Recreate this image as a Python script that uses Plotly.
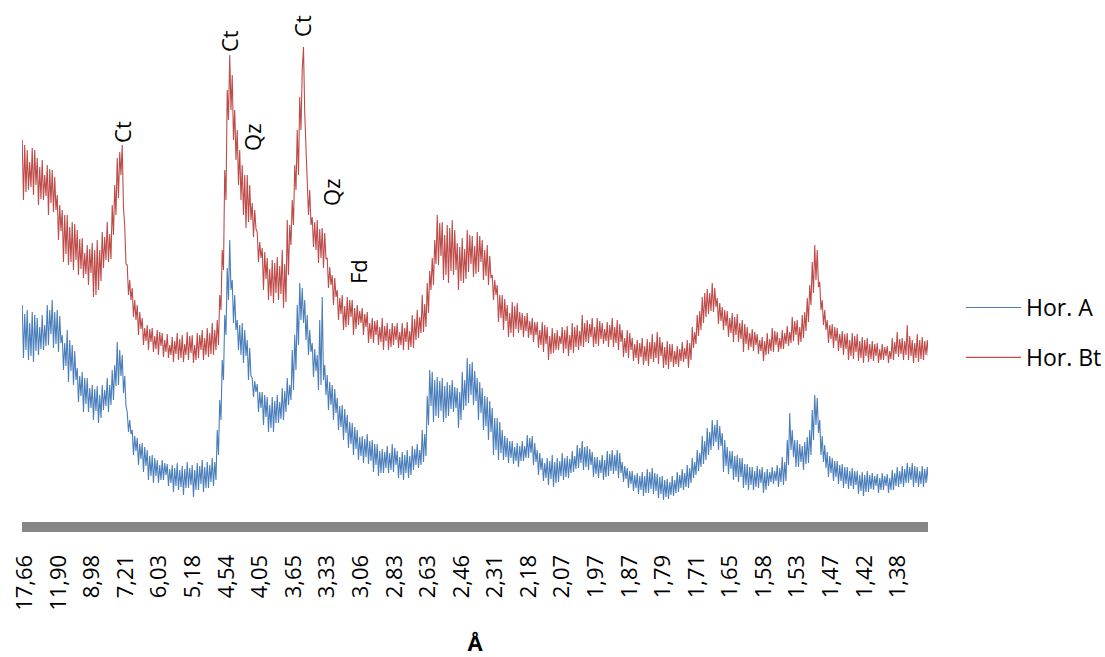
import plotly.graph_objects as go

# ---- data ----
tick_labels = ["17,66", "11,90", "8,98", "7,21", "6,03", "5,18", "4,54", "4,05",
               "3,65", "3,33", "3,06", "2,83", "2,63", "2,46", "2,31", "2,18",
               "2,07", "1,97", "1,87", "1,79", "1,71", "1,65", "1,58", "1,53",
               "1,47", "1,42", "1,38"]
first_label_2theta = 5.0      # 2θ of "17,66"
last_label_2theta = 67.86     # 2θ of "1,38"
two_theta_start = 4.8
two_theta_step = 0.09

# intensity (arbitrary units), one value per 2θ step
hor_a = [
    221, 168, 212, 176, 216, 166, 203, 170, 214, 164, 211, 175, 208, 171, 199, 177,
    211, 176, 201, 180, 221, 181, 216, 192, 226, 178, 214, 182, 216, 174, 210, 183,
    191, 156, 183, 160, 196, 144, 186, 155, 181, 141, 175, 146, 158, 124, 150, 130,
    154, 114, 148, 122, 148, 114, 138, 118, 141, 106, 137, 115, 140, 103, 131, 108,
    141, 116, 136, 120, 148, 114, 141, 121, 156, 126, 161, 140, 184, 141, 176, 150,
    171, 133, 150, 120, 114, 94, 106, 92, 96, 71, 90, 75, 88, 61, 82, 67,
    83, 54, 79, 60, 76, 46, 70, 50, 71, 43, 68, 50, 66, 43, 61, 46,
    66, 46, 63, 51, 62, 40, 57, 43, 61, 34, 58, 40, 63, 36, 56, 39,
    60, 31, 57, 38, 64, 38, 58, 41, 61, 29, 56, 36, 63, 36, 60, 42,
    66, 34, 59, 38, 64, 38, 61, 44, 68, 40, 64, 46, 96, 71, 126, 106,
    166, 146, 211, 191, 258, 226, 286, 236, 246, 203, 231, 196, 206, 176, 201, 171,
    203, 163, 196, 170, 186, 146, 178, 150, 148, 129, 145, 134, 142, 114, 134, 118,
    134, 101, 131, 109, 129, 94, 121, 98, 129, 94, 125, 103, 131, 103, 124, 107,
    138, 106, 135, 114, 148, 121, 141, 126, 176, 136, 191, 156, 221, 181, 243, 206,
    238, 203, 226, 186, 211, 171, 196, 174, 183, 149, 177, 155, 171, 136, 206, 141,
    229, 146, 161, 131, 151, 116, 144, 121, 141, 106, 137, 113, 128, 96, 120, 99,
    121, 86, 117, 93, 111, 78, 104, 82, 103, 71, 99, 77, 96, 66, 89, 70,
    90, 63, 87, 69, 92, 62, 85, 65, 86, 54, 82, 61, 82, 50, 75, 53,
    77, 53, 74, 58, 80, 53, 73, 56, 82, 54, 78, 61, 75, 48, 69, 51,
    74, 46, 71, 53, 76, 48, 70, 51, 80, 56, 77, 61, 82, 58, 76, 61,
    96, 64, 92, 70, 130, 101, 156, 120, 154, 104, 146, 110, 149, 108, 145, 115,
    148, 104, 140, 108, 144, 110, 141, 117, 146, 114, 139, 118, 138, 98, 134, 106,
    154, 116, 146, 120, 168, 123, 162, 131, 164, 121, 155, 125, 148, 106, 144, 113,
    138, 96, 130, 100, 129, 86, 125, 94, 118, 71, 108, 76, 108, 66, 104, 73,
    96, 66, 90, 69, 88, 63, 85, 68, 85, 62, 79, 65, 83, 59, 80, 65,
    85, 65, 80, 68, 91, 68, 88, 73, 90, 61, 83, 64, 76, 51, 73, 56,
    68, 45, 63, 48, 68, 41, 65, 47, 71, 39, 64, 43, 68, 44, 65, 50,
    73, 46, 68, 49, 70, 48, 67, 53, 75, 54, 70, 57, 81, 58, 78, 63,
    85, 56, 79, 59, 80, 56, 77, 61, 74, 49, 69, 52, 69, 48, 66, 53,
    71, 46, 66, 49, 75, 50, 72, 55, 76, 52, 71, 55, 76, 48, 73, 53,
    64, 44, 60, 47, 58, 38, 55, 42, 55, 35, 51, 38, 53, 32, 50, 36,
    54, 30, 50, 33, 57, 33, 54, 37, 58, 32, 53, 35, 52, 28, 49, 32,
    50, 26, 46, 29, 47, 27, 44, 31, 50, 30, 46, 33, 54, 34, 51, 38,
    57, 36, 53, 39, 61, 38, 58, 43, 68, 48, 64, 51, 76, 55, 73, 59,
    90, 62, 85, 66, 98, 71, 94, 76, 106, 80, 101, 84, 106, 76, 100, 80,
    93, 54, 86, 60, 79, 52, 75, 57, 75, 46, 70, 49, 71, 44, 68, 49,
    68, 38, 62, 41, 62, 36, 59, 41, 59, 36, 55, 39, 60, 38, 57, 43,
    59, 33, 54, 36, 57, 40, 54, 44, 59, 42, 55, 45, 61, 39, 58, 44,
    69, 41, 64, 45, 86, 61, 113, 76, 96, 69, 86, 59, 86, 59, 82, 64,
    80, 56, 84, 62, 89, 63, 96, 71, 116, 86, 131, 101, 128, 93, 106, 71,
    90, 64, 81, 58, 74, 49, 70, 53, 68, 45, 65, 49, 65, 42, 61, 45,
    62, 38, 59, 42, 59, 37, 55, 40, 58, 37, 55, 41, 55, 32, 51, 35,
    54, 30, 51, 34, 55, 34, 51, 37, 53, 36, 50, 40, 52, 33, 48, 36,
    53, 36, 50, 40, 52, 33, 48, 36, 56, 36, 53, 40, 59, 39, 55, 42,
    60, 39, 57, 43, 63, 43, 59, 46, 63, 39, 60, 43, 59, 39, 55, 42,
    60, 39, 57, 43, 59, 43, 55, 46,
]

hor_bt = [
    386, 326, 381, 334, 376, 336, 364, 339, 378, 331, 376, 341, 368, 321, 359, 327,
    366, 326, 351, 330, 361, 311, 357, 323, 356, 314, 349, 316, 331, 286, 321, 295,
    316, 264, 311, 272, 311, 261, 299, 264, 304, 256, 302, 266, 296, 251, 287, 257,
    288, 248, 273, 252, 281, 241, 277, 253, 283, 229, 276, 231, 286, 236, 276, 245,
    294, 258, 289, 266, 304, 264, 292, 267, 321, 291, 341, 311, 368, 328, 374, 351,
    381, 318, 300, 262, 261, 231, 246, 226, 238, 209, 226, 206, 221, 191, 214, 197,
    208, 181, 198, 185, 201, 176, 197, 184, 198, 174, 190, 177, 196, 171, 194, 180,
    193, 169, 186, 174, 192, 168, 181, 171, 189, 164, 185, 172, 193, 166, 187, 168,
    191, 164, 182, 171, 194, 166, 190, 173, 191, 163, 181, 166, 193, 168, 191, 176,
    196, 166, 188, 171, 198, 169, 193, 172, 203, 171, 196, 176, 206, 181, 231, 216,
    276, 256, 356, 326, 436, 406, 471, 416, 451, 386, 416, 366, 396, 341, 376, 326,
    361, 311, 351, 298, 351, 304, 341, 306, 323, 289, 316, 297, 294, 264, 284, 268,
    278, 236, 274, 247, 268, 226, 257, 230, 266, 223, 263, 233, 269, 226, 260, 232,
    276, 218, 262, 224, 306, 251, 301, 281, 326, 301, 361, 336, 396, 351, 429, 396,
    456, 479, 413, 376, 361, 311, 336, 301, 309, 279, 304, 276, 306, 263, 297, 268,
    298, 258, 293, 267, 268, 238, 259, 241, 251, 221, 248, 229, 236, 206, 228, 212,
    231, 196, 220, 199, 229, 201, 226, 209, 226, 191, 218, 197, 221, 201, 215, 203,
    218, 191, 212, 199, 214, 183, 203, 187, 208, 183, 205, 191, 206, 181, 199, 184,
    208, 176, 200, 185, 203, 176, 197, 179, 203, 181, 200, 186, 203, 178, 194, 181,
    203, 176, 198, 184, 204, 176, 195, 179, 211, 178, 207, 186, 216, 188, 209, 193,
    231, 194, 222, 199, 243, 213, 255, 236, 268, 241, 286, 262, 311, 261, 303, 270,
    304, 246, 291, 251, 301, 243, 298, 255, 306, 251, 296, 256, 283, 236, 279, 245,
    288, 243, 277, 247, 296, 254, 291, 262, 290, 249, 280, 252, 294, 254, 290, 264,
    286, 246, 276, 250, 281, 241, 270, 248, 251, 226, 246, 231, 241, 204, 231, 208,
    231, 196, 227, 205, 221, 189, 213, 193, 224, 189, 220, 197, 223, 193, 214, 196,
    213, 189, 210, 195, 213, 188, 205, 191, 208, 184, 204, 191, 204, 178, 196, 181,
    204, 174, 201, 182, 199, 166, 190, 172, 198, 173, 193, 176, 196, 176, 190, 182,
    199, 173, 196, 177, 200, 170, 191, 176, 203, 173, 199, 179, 201, 176, 195, 180,
    211, 179, 203, 184, 206, 183, 202, 189, 208, 179, 199, 182, 208, 180, 205, 187,
    203, 182, 197, 185, 204, 179, 201, 186, 208, 179, 199, 183, 206, 176, 202, 184,
    196, 169, 188, 173, 196, 168, 193, 176, 188, 165, 182, 168, 186, 162, 183, 169,
    188, 161, 180, 165, 187, 160, 184, 167, 192, 164, 184, 168, 194, 162, 189, 170,
    184, 158, 179, 161, 185, 157, 182, 164, 182, 159, 175, 162, 180, 159, 177, 165,
    184, 164, 178, 167, 186, 158, 183, 166, 199, 178, 194, 182, 211, 190, 215, 196,
    229, 203, 233, 209, 237, 212, 233, 215, 243, 214, 238, 219, 228, 202, 223, 205,
    219, 196, 216, 200, 215, 189, 208, 193, 213, 184, 209, 191, 212, 184, 203, 187,
    206, 174, 202, 182, 199, 176, 193, 179, 197, 175, 194, 181, 192, 172, 186, 175,
    189, 165, 185, 171, 193, 172, 187, 175, 198, 174, 195, 181, 194, 174, 188, 177,
    196, 177, 193, 182, 200, 180, 194, 183, 209, 185, 205, 191, 206, 181, 199, 184,
    211, 188, 214, 195, 228, 204, 241, 221, 264, 233, 281, 246, 276, 239, 244, 216,
    226, 201, 216, 196, 206, 183, 201, 187, 202, 178, 199, 185, 198, 175, 192, 178,
    195, 171, 192, 177, 193, 166, 186, 170, 193, 167, 190, 174, 192, 165, 185, 168,
    189, 163, 186, 170, 188, 164, 182, 167, 185, 165, 182, 170, 183, 163, 177, 166,
    182, 166, 179, 170, 180, 163, 175, 167, 188, 166, 184, 172, 194, 169, 187, 172,
    188, 166, 185, 171, 201, 166, 190, 170, 186, 163, 183, 168, 192, 164, 186, 167,
    189, 166, 185, 171, 186, 169, 182, 172,
]

peak_labels = ["Ct", "Ct", "Qz", "Ct", "Qz", "Fd"]
peak_2theta = [11.98, 19.69, 21.34, 24.94, 27.03, 28.98]
peak_label_y = [394, 485, 389, 500, 334, 254]

# ---- derived grids ----
two_theta_a = [two_theta_start + two_theta_step * i for i in range(len(hor_a))]
two_theta_bt = [two_theta_start + two_theta_step * i for i in range(len(hor_bt))]
label_step = (last_label_2theta - first_label_2theta) / (len(tick_labels) - 1)
tickvals = [first_label_2theta + i * label_step for i in range(len(tick_labels))]

FONT = "Open Sans"
fig = go.Figure()
fig.add_trace(go.Scatter(x=two_theta_a, y=hor_a, mode="lines", name="Hor. A",
                         legendgroup="a", line=dict(color="#4A7EBB", width=1.1)))
fig.add_trace(go.Scatter(x=two_theta_bt, y=hor_bt, mode="lines", name="Hor. Bt",
                         legendgroup="bt", line=dict(color="#BE4B48", width=1.1)))

for txt, px, py in zip(peak_labels, peak_2theta, peak_label_y):
    fig.add_annotation(x=px, y=py, xref="x", yref="y", text=txt, showarrow=False,
                       textangle=-90, font=dict(family=FONT, size=22, color="black"),
                       xanchor="center", yanchor="middle")

fig.update_layout(
    width=1105, height=657,
    margin=dict(l=22, r=177, t=20, b=135, autoexpand=False),
    paper_bgcolor="white", plot_bgcolor="white",
    showlegend=True,
    legend=dict(x=1.0364, y=0.47, xanchor="left", yanchor="top",
                font=dict(family=FONT, size=23, color="black"),
                itemwidth=55, tracegroupgap=17, bgcolor="rgba(0,0,0,0)"),
    xaxis=dict(range=[4.784, 70.015], showgrid=False, zeroline=False, automargin=False,
               showline=True, linecolor="#878787", linewidth=10,
               ticks="", tickmode="array", tickvals=tickvals, ticktext=tick_labels,
               tickangle=-90, ticklabelstandoff=14,
               tickfont=dict(family=FONT, size=22, color="black"),
               title=dict(text="<b>Å</b>", font=dict(family=FONT, size=22, color="black"),
                          standoff=40)),
    yaxis=dict(range=[4, 506], visible=False, showgrid=False, zeroline=False,
               automargin=False),
)

fig.write_html("out.html", config={"displayModeBar": False},
               post_script="document.body.style.margin='0px';")
